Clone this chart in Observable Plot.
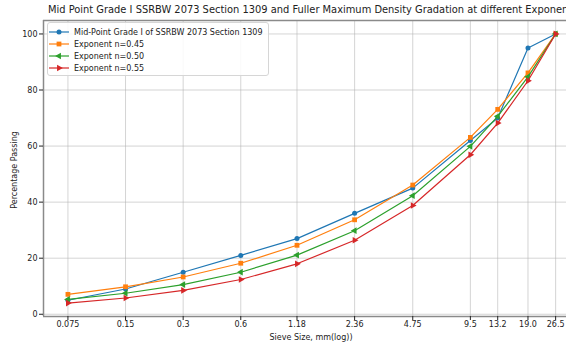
<!DOCTYPE html>
<html>
<head>
<meta charset="utf-8">
<script src="https://cdn.jsdelivr.net/npm/d3@7"></script>
<script src="https://cdn.jsdelivr.net/npm/@observablehq/plot@0.6"></script>
<style>
  html, body { margin: 0; padding: 0; background: #fff; }
  #wrap { position: relative; width: 566px; height: 344px; overflow: hidden; font-family: "DejaVu Sans", sans-serif; color: #222; }
  #title { position: absolute; left: 48px; top: 4px; font-size: 9.9px; line-height: 12px; white-space: nowrap; }
  #ylab { position: absolute; left: 14px; top: 170px; font-size: 8px; white-space: nowrap; transform: translate(-50%, -50%) rotate(-90deg); }
  #xlab { position: absolute; left: 311px; top: 337px; font-size: 8px; white-space: nowrap; transform: translate(-50%, -50%); }
  #legend { position: absolute; left: 47px; top: 22px; width: 220px; height: 52px; border: 1px solid #d6d6d6; border-radius: 3px; background: rgba(255,255,255,0.85); font-size: 8px; }
  .row { position: absolute; left: 0; height: 12px; display: flex; align-items: center; white-space: nowrap; }
  .row svg { margin-left: 1px; margin-right: 5px; }
</style>
</head>
<body>
<div id="wrap">
  <div id="chart"></div>
  <div id="title">Mid Point Grade I SSRBW 2073 Section 1309 and Fuller Maximum Density Gradation at different Exponent n</div>
  <div id="ylab">Percentage Passing</div>
  <div id="xlab">Sieve Size, mm(log))</div>
  <div id="legend"></div>
</div>
<script>
// Sieve sizes (mm) and tick labels
const sieve = [0.075, 0.15, 0.3, 0.6, 1.18, 2.36, 4.75, 9.5, 13.2, 19.0, 26.5];
const sieveLabels = ["0.075", "0.15", "0.3", "0.6", "1.18", "2.36", "4.75", "9.5", "13.2", "19.0", "26.5"];
const yTicks = [0, 20, 40, 60, 80, 100];

// Series values (percentage passing)
const midPoint = [5, 9, 15, 21, 27, 36, 45, 62, 70, 95, 100];
const n045 = [7.1, 9.8, 13.3, 18.2, 24.6, 33.7, 46.1, 63.1, 73.1, 86.1, 100];
const n050 = [5.3, 7.5, 10.6, 15.0, 21.1, 29.8, 42.3, 59.9, 70.6, 84.7, 100];
const n055 = [4.0, 5.8, 8.5, 12.4, 18.0, 26.4, 38.8, 56.9, 68.2, 83.3, 100];

const seriesNames = ["Mid-Point Grade I of SSRBW 2073 Section 1309", "Exponent n=0.45", "Exponent n=0.50", "Exponent n=0.55"];
const seriesValues = [midPoint, n045, n050, n055];
const seriesColors = ["#1f77b4", "#ff7f0e", "#2ca02c", "#d62728"];
const seriesSymbols = ["circle", "square", "triangle", "triangle"];
const seriesRotate = [0, 0, -90, 90];
const seriesR = [2.5, 2.7, 2.5, 2.5];

const xDomain = [0.0559, 30.2];
const yDomain = [-0.8, 104.8];

const tickData = sieve.map((s, i) => ({x: s, label: sieveLabels[i]}));

const marks = [
  Plot.gridX(sieve, {stroke: "#b0b0b0", strokeOpacity: 0.55, strokeWidth: 1}),
  Plot.gridY(yTicks, {stroke: "#b0b0b0", strokeOpacity: 0.55, strokeWidth: 1}),
  Plot.ruleY([yDomain[0]], {stroke: "#8a8a8a", strokeWidth: 1.5}),
  Plot.ruleY([yDomain[1]], {stroke: "#8a8a8a", strokeWidth: 1.5}),
  Plot.ruleX([xDomain[0]], {stroke: "#8a8a8a", strokeWidth: 1.5}),
  Plot.axisX({ticks: sieve, tickFormat: () => "", tickSize: 4, tickPadding: 2, label: null, fontSize: 8}),
  Plot.text(tickData, {x: "x", text: "label", frameAnchor: "bottom", dy: 10, fontSize: 8, fill: "#222"}),
  Plot.axisY({ticks: yTicks, tickSize: 4, tickPadding: 2, label: null, fontSize: 8})
];

seriesValues.forEach((vals, k) => {
  const data = sieve.map((s, i) => ({x: s, y: vals[i]}));
  marks.push(Plot.line(data, {x: "x", y: "y", stroke: seriesColors[k], strokeWidth: 1.2}));
  marks.push(Plot.dot(data, {x: "x", y: "y", fill: seriesColors[k], symbol: seriesSymbols[k], r: seriesR[k], rotate: seriesRotate[k]}));
});

const chart = Plot.plot({
  width: 566,
  height: 344,
  marginTop: 20,
  marginBottom: 28,
  marginLeft: 43,
  marginRight: 0,
  x: {type: "log", domain: xDomain},
  y: {domain: yDomain},
  style: {fontFamily: "DejaVu Sans, sans-serif", fontSize: "8px", color: "#222", background: "white"},
  marks
});
document.getElementById("chart").appendChild(chart);

// Legend
const legend = d3.select("#legend");
const symbolMap = {circle: d3.symbolCircle, square: d3.symbolSquare, triangle: d3.symbolTriangle};
seriesNames.forEach((name, k) => {
  const row = legend.append("div").attr("class", "row").style("top", (3 + k * 12) + "px");
  const svg = row.append("svg").attr("width", 20).attr("height", 12);
  svg.append("line").attr("x1", 0).attr("x2", 20).attr("y1", 6).attr("y2", 6)
    .attr("stroke", seriesColors[k]).attr("stroke-width", 1.2);
  svg.append("path")
    .attr("d", d3.symbol(symbolMap[seriesSymbols[k]], Math.PI * seriesR[k] * seriesR[k])())
    .attr("transform", `translate(10,6) rotate(${seriesRotate[k]})`)
    .attr("fill", seriesColors[k]);
  row.append("span").text(name);
});
</script>
</body>
</html>
